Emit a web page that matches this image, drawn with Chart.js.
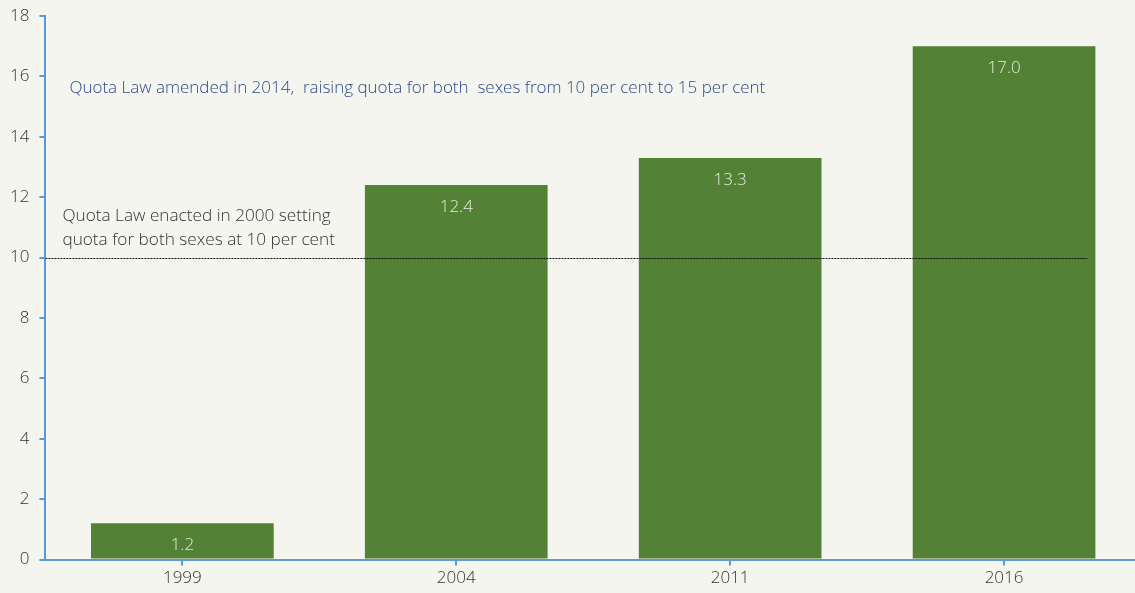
<!DOCTYPE html>
<html>
<head>
<meta charset="utf-8">
<script src="https://cdn.jsdelivr.net/npm/chart.js@4/dist/chart.umd.min.js"></script>
<style>
  html, body { margin:0; padding:0; background:#f5f5f0; overflow:hidden; }
  #wrap { width:1141px; height:593px; }
</style>
</head>
<body>
<div id="wrap"><canvas id="chart"></canvas></div>
<script>
// data
const years = ['1999', '2004', '2011', '2016'];
const shares = [1.2, 12.4, 13.3, 17.0];
const yTicks = [0, 2, 4, 6, 8, 10, 12, 14, 16, 18];
const quotaLine = 10;
const noteTop = ['Quota Law amended in 2014,  raising quota for both  sexes from 10 per cent to 15 per cent'];
const noteLine = ['Quota Law enacted in 2000 setting', 'quota for both sexes at 10 per cent'];

const BLUE = '#5b9bd5';
const GREEN = '#538135';
const FONT = '"Open Sans", "Noto Sans", sans-serif';

// draws labels, dotted quota line and notes
const extras = {
  id: 'extras',
  afterDatasetsDraw(chart){
    const {ctx, chartArea, scales:{x, y}} = chart;
    ctx.save();
    // value labels inside bars
    const meta = chart.getDatasetMeta(0);
    ctx.font = '300 17px ' + FONT;
    ctx.fillStyle = '#e6ecdc';
    ctx.textAlign = 'center';
    ctx.textBaseline = 'middle';
    meta.data.forEach((bar, i) => {
      ctx.fillText(shares[i].toFixed(1), bar.x, bar.y + 22);
    });
    // dotted line at quota
    const ly = Math.round(y.getPixelForValue(quotaLine)) + 0.5;
    const lastBar = meta.data[meta.data.length - 1];
    ctx.strokeStyle = '#111';
    ctx.lineWidth = 1;
    ctx.setLineDash([2, 1]);
    ctx.beginPath();
    ctx.moveTo(chartArea.left, ly);
    ctx.lineTo(lastBar.x + lastBar.width / 2 - 8, ly);
    ctx.stroke();
    ctx.setLineDash([]);
    // notes
    ctx.textAlign = 'left';
    ctx.fillStyle = '#2f4b86';
    ctx.font = '300 17px ' + FONT;
    noteTop.forEach((t, i) => ctx.fillText(t, chartArea.left + 24, y.getPixelForValue(15.6) + i * 24));
    ctx.fillStyle = '#333';
    ctx.font = '300 17.2px ' + FONT;
    noteLine.forEach((t, i) => ctx.fillText(t, chartArea.left + 17, y.getPixelForValue(11.38) + i * 24));
    ctx.restore();
  }
};

new Chart(document.getElementById('chart'), {
  type: 'bar',
  data: {
    labels: years,
    datasets: [{ data: shares, backgroundColor: GREEN, categoryPercentage: 1, barPercentage: 0.667 }]
  },
  options: {
    responsive: true,
    maintainAspectRatio: false,
    animation: false,
    layout: { padding: { top: 0, right: 0, left: 0, bottom: 3 } },
    plugins: { legend: { display:false }, tooltip: { enabled:false } },
    scales: {
      x: {
        grid: { display:true, offset:false, drawOnChartArea:false, drawTicks:true, tickLength:6, color:BLUE, lineWidth:2 },
        border: { color:BLUE, width:2 },
        ticks: { color:'#333', font:{ family:FONT, size:17, weight:300 }, padding:2 }
      },
      y: {
        min: 0, max: 18,
        afterBuildTicks: (axis) => { axis.ticks = yTicks.map(v => ({ value:v })); },
        afterFit: (axis) => { axis.paddingTop = 16; },
        grid: { display:true, drawOnChartArea:false, drawTicks:true, tickLength:6, color:BLUE, lineWidth:2 },
        border: { color:BLUE, width:2 },
        ticks: { color:'#333', font:{ family:FONT, size:17, weight:300 }, padding:10 }
      }
    }
  },
  plugins: [extras]
});
</script>
</body>
</html>
